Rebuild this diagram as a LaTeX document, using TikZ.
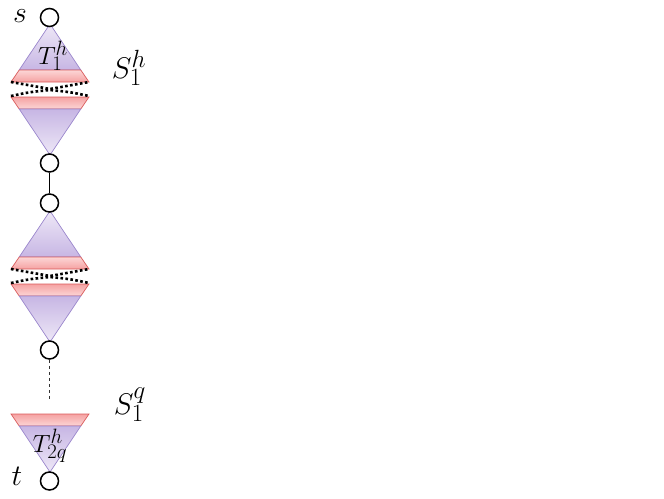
\documentclass[tikz,border=0pt]{standalone}
\definecolor{purpLight}{HTML}{EEE8F7}
\definecolor{purpDark}{HTML}{C7B6E4}
\definecolor{purpLine}{HTML}{9A86CC}
\definecolor{redLight}{HTML}{FCD6D6}
\definecolor{redDark}{HTML}{F5A2A2}
\definecolor{redLine}{HTML}{D95B5B}
\newcommand{\bigtxt}[1]{\scalebox{1.2}{\Huge #1}}
\newcommand{\midtxt}[1]{\scalebox{1.0}{\Huge #1}}
\tikzset{
  vertex/.style={circle,draw=black,fill=white,line width=1.5pt,minimum size=18pt,inner sep=0pt},
  purpdown/.style={top color=purpLight,bottom color=purpDark,draw=purpLine,line width=0.7pt},
  purpup/.style={top color=purpDark,bottom color=purpLight,draw=purpLine,line width=0.7pt},
  bandA/.style={top color=redLight,bottom color=redDark,draw=redLine,line width=0.7pt},
  bandB/.style={top color=redDark,bottom color=redLight,draw=redLine,line width=0.7pt},
  cutline/.style={line width=2.6pt,dash pattern=on 2.6pt off 2.4pt},
  biglabel/.style={inner sep=0pt},
  inlabel/.style={inner sep=0pt},
  edge/.style={line width=0.9pt},
  dashedge/.style={line width=0.7pt,dashed,draw=black!80}
}
\begin{document}
\begin{tikzpicture}[x=1pt,y=-1pt]
\useasboundingbox (0,0) rectangle (664,498);
% diamond shapes (top and middle)
\foreach \dy in {0,187}{
  \begin{scope}[yshift=-\dy pt]
    \shadedraw[purpdown] (50,24) -- (80.8,70) -- (19.2,70) -- cycle;
    \shadedraw[bandA] (19.2,70) -- (80.8,70) -- (89,82) -- (11,82) -- cycle;
    \shadedraw[bandB] (11,97) -- (89,97) -- (80.8,109) -- (19.2,109) -- cycle;
    \shadedraw[purpup] (19.2,109) -- (80.8,109) -- (50,155) -- cycle;
    \draw[cutline] (11,82) .. controls (30,86) .. (50,89) .. controls (70,86) .. (89,82);
    \draw[cutline] (11,96) .. controls (30,92) .. (50,90) .. controls (70,92) .. (89,96);
  \end{scope}
}
% bottom half triangle
\shadedraw[bandB] (11,414) -- (89,414) -- (80.8,426) -- (19.2,426) -- cycle;
\shadedraw[purpup] (19.2,426) -- (80.8,426) -- (50,472) -- cycle;
% vertices
\node[vertex] (s) at (49.5,17.5) {};
\node[vertex] (a) at (49.5,163) {};
\node[vertex] (b) at (49.5,203) {};
\node[vertex] (c) at (49.5,350) {};
\node[vertex] (t) at (49.5,481) {};
\coordinate (cend) at (49.5,400);
\draw[edge] (a) -- (b);
\draw[dashedge] (c) -- (cend);
% labels
\node[biglabel] (ls) at (20,16) {\bigtxt{$s$}};
\node[biglabel] (lt) at (17,476) {\bigtxt{$t$}};
\node[inlabel] (T1) at (53,56) {\midtxt{$T_1^h$}};
\node[inlabel] (T2) at (50,446) {\midtxt{$T_{2q}^h$}};
\node[biglabel] (S1) at (129,68) {\bigtxt{$S_1^h$}};
\node[biglabel] (Sq) at (130,405) {\bigtxt{$S_1^q$}};
\end{tikzpicture}
\end{document}
